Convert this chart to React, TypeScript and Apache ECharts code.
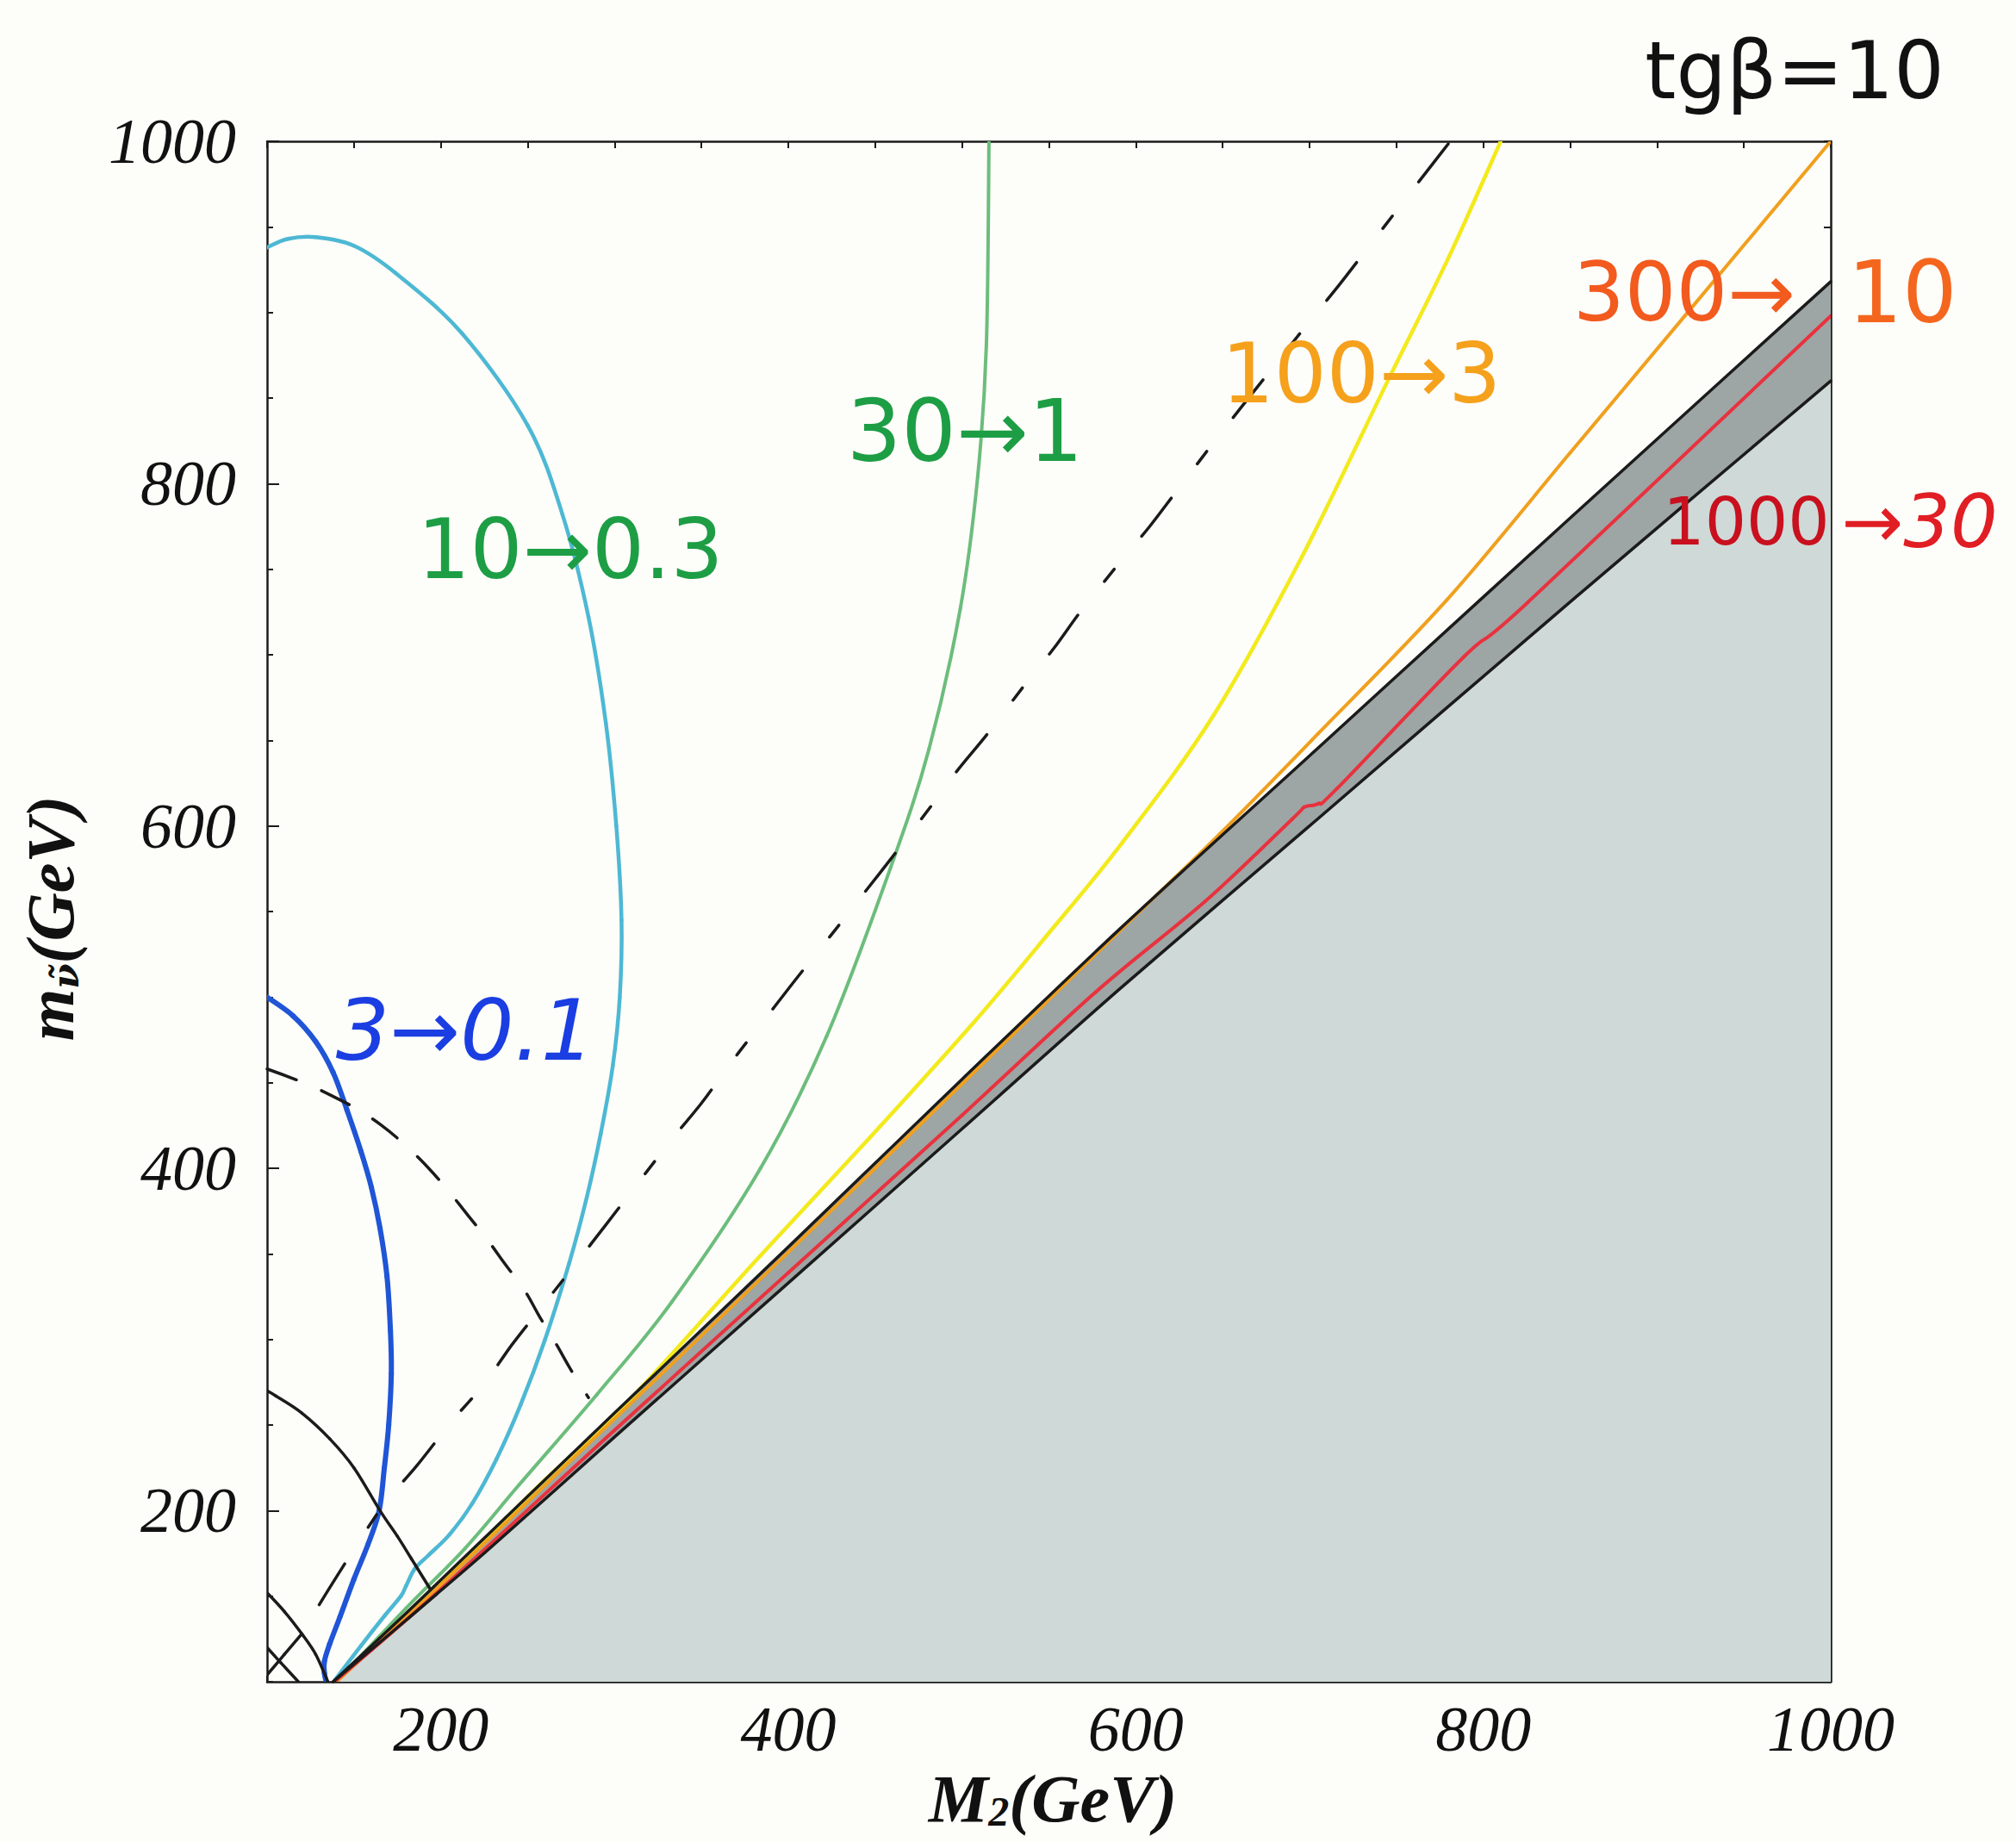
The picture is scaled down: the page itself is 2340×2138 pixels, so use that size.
import { useEffect, useRef } from 'react';
import * as echarts from 'echarts';

// ---- axis ticks (GeV) ----
const X_MAJOR = [200, 400, 600, 800, 1000];
const X_MINOR = [100, 150, 200, 250, 300, 350, 400, 450, 500, 550, 600, 650, 700, 750, 800, 850, 900, 950, 1000];
const Y_MAJOR = [200, 400, 600, 800, 1000];
const Y_MINOR = [100, 150, 200, 250, 300, 350, 400, 450, 500, 550, 600, 650, 700, 750, 800, 850, 900, 950, 1000];

// ---- curves: [M2, m_sneutrino] ----
const UPPER_BLACK = [[138, 100], [180, 140], [220, 179], [300, 257], [400, 354], [500, 452], [591, 540], [700, 641], [796, 730], [900, 826], [1000, 918]];
const LOWER_BLACK = [[138, 100], [180, 136], [226, 176], [300, 243], [400, 333], [500, 423], [591, 505], [700, 600], [849, 730], [1000, 860]];
const RED = [[140, 101], [200, 154], [300, 247], [400, 339], [500, 431], [577, 503], [640, 556], [690, 604], [697, 611], [705, 613], [716, 622], [789, 699], [826, 731], [1000, 898]];
const ORANGE = [[140, 100], [220, 176], [400, 351], [591, 539], [648, 595], [705, 654], [779, 732], [850, 818], [916, 898], [1000, 1000]];
const YELLOW = [[140, 101], [220, 178], [260, 218], [308, 264], [384, 349], [447, 418], [504, 482], [548, 535], [592, 590], [645, 665], [696, 758], [745, 860], [780, 932], [810, 1000]];
const GREEN = [[140, 100], [180, 143], [214, 178], [245, 215], [290, 268], [333, 322], [384, 400], [422, 477], [459, 576], [481, 645], [499, 727], [509, 804], [514, 881], [515.5, 1000]];
const CYAN = [[100, 938], [112, 943], [128, 944], [150, 939], [174, 923], [212, 888], [250, 834], [270, 782], [285, 722], [295, 660], [301, 600], [304, 545], [303, 500], [299, 460], [292, 420], [284, 383], [274, 345], [260, 300], [246, 262], [232, 230], [218, 204], [205, 186], [193, 174], [185, 166], [180, 156], [177, 150], [168, 139], [154, 121], [139, 101]];
const BLUE = [[100, 500], [115, 489], [128, 474], [138, 456], [146, 434], [154, 410], [160, 389], [165, 365], [169, 337], [171, 305], [171.5, 280], [170, 250], [167.5, 225], [164.5, 200], [158, 180], [150, 160], [142, 138], [136, 122], [133, 112], [133, 105], [134, 100]];
const DASH_DIAG = [[130, 145], [166, 202], [186, 226], [207, 253], [225, 274], [241, 297], [262, 324], [279, 346], [295, 367], [317, 396], [333, 417], [350, 438], [371, 467], [388, 489], [404, 510], [426, 538], [443, 560], [460, 582], [481, 610], [497, 632], [514, 653], [535, 681], [553, 704], [568, 725], [590, 753], [608, 775], [623, 795], [644, 823], [661, 845], [701, 896], [717, 916], [733, 937], [755, 966], [771, 987], [781, 1000]];
const DASH_ARC = [[100, 458], [121, 450], [136, 443], [151, 435], [166, 425], [180, 413], [193, 400], [205, 386], [216, 372], [227, 358], [237, 344], [248, 329], [257, 313], [266, 298], [275, 282], [285, 266]];
const BLACK_ARC = [[100, 270], [105, 267], [120, 257], [136, 242], [150, 225], [165, 200], [175, 185], [183, 172], [194, 154]];
const BLACK_K1 = [[100, 152], [110, 141], [120, 128], [128, 116], [135, 100]];
const BLACK_K2 = [[100, 104], [110, 116], [120, 128]];
const BLACK_K3 = [[100, 120], [108, 111], [118, 100]];

const INK = '#1b1b1b';

function curve(data: number[][], color: string, width: number, smooth: number | boolean, extra: any = {}) {
  return {
    type: 'line',
    data,
    xAxisIndex: 0,
    yAxisIndex: 0,
    symbol: 'none',
    showSymbol: false,
    silent: true,
    smooth,
    lineStyle: { color, width, cap: 'round', join: 'round', ...(extra.lineStyle || {}) },
    z: extra.z ?? 5,
    ...(extra.areaStyle ? { areaStyle: extra.areaStyle } : {}),
  };
}

// Catmull-Rom spline through the data points, drawn segment by segment via the axes' scales
function spline(data: number[][], color: string, width: number, z = 5) {
  return {
    type: 'custom',
    data,
    xAxisIndex: 0,
    yAxisIndex: 0,
    encode: { x: 0, y: 1 },
    silent: true,
    clip: true,
    z,
    renderItem: (params: any, api: any) => {
      const i = params.dataIndex;
      const n = data.length;
      if (i >= n - 1) return null;
      const p = (k: number) => api.coord(data[Math.max(0, Math.min(n - 1, k))]);
      const p0 = p(i - 1), p1 = p(i), p2 = p(i + 1), p3 = p(i + 2);
      const t = 1 / 6;
      return {
        type: 'bezierCurve',
        shape: {
          x1: p1[0], y1: p1[1], x2: p2[0], y2: p2[1],
          cpx1: p1[0] + (p2[0] - p0[0]) * t, cpy1: p1[1] + (p2[1] - p0[1]) * t,
          cpx2: p2[0] - (p3[0] - p1[0]) * t, cpy2: p2[1] - (p3[1] - p1[1]) * t,
        },
        style: { stroke: color, lineWidth: width, fill: null, lineCap: 'round' },
      };
    },
  };
}

export default function App() {
  const ref = useRef<HTMLDivElement>(null);
  useEffect(() => {
    document.body.style.margin = '0';
    const chart = echarts.init(ref.current!, null, { renderer: 'svg' });
    const tickFont = { fontFamily: 'Liberation Serif', fontStyle: 'italic', fontSize: 74, color: '#111', formatter: (v: number) => String(v) };
    const hand = "'DejaVu Sans'";
    const centered = { textAlign: 'center', textVerticalAlign: 'middle', align: 'center', verticalAlign: 'middle' };
    const option: any = {
      animation: false,
      backgroundColor: '#fdfdf9',
      grid: { left: 310, top: 164, width: 1815, height: 1788, containLabel: false },
      xAxis: [
        {
          type: 'value', min: 100, max: 1000, position: 'bottom',
          axisLine: { show: true, onZero: false, lineStyle: { color: INK, width: 2.5 } },
          axisTick: { show: true, inside: true, length: 14, customValues: X_MAJOR, lineStyle: { color: INK, width: 2 } },
          axisLabel: { show: true, customValues: X_MAJOR, margin: 18, ...tickFont },
          splitLine: { show: false },
        },
        {
          type: 'value', min: 100, max: 1000, position: 'bottom',
          axisLine: { show: false, onZero: false },
          axisTick: { show: true, inside: true, length: 7, customValues: X_MINOR, lineStyle: { color: INK, width: 2 } },
          axisLabel: { show: false },
          splitLine: { show: false },
        },
        {
          type: 'value', min: 100, max: 1000, position: 'top',
          axisLine: { show: true, onZero: false, lineStyle: { color: INK, width: 2.5 } },
          axisTick: { show: true, inside: true, length: 8, customValues: X_MINOR, lineStyle: { color: INK, width: 2 } },
          axisLabel: { show: false },
          splitLine: { show: false },
        },
      ],
      yAxis: [
        {
          type: 'value', min: 100, max: 1000, position: 'left',
          axisLine: { show: true, onZero: false, lineStyle: { color: INK, width: 2.5 } },
          axisTick: { show: true, inside: true, length: 14, customValues: Y_MAJOR, lineStyle: { color: INK, width: 2 } },
          axisLabel: { show: true, customValues: Y_MAJOR, margin: 36, ...tickFont },
          splitLine: { show: false },
        },
        {
          type: 'value', min: 100, max: 1000, position: 'left',
          axisLine: { show: false, onZero: false },
          axisTick: { show: true, inside: true, length: 7, customValues: Y_MINOR, lineStyle: { color: INK, width: 2 } },
          axisLabel: { show: false },
          splitLine: { show: false },
        },
        {
          type: 'value', min: 100, max: 1000, position: 'right',
          axisLine: { show: true, onZero: false, lineStyle: { color: INK, width: 2.5 } },
          axisTick: { show: true, inside: true, length: 8, customValues: Y_MINOR, lineStyle: { color: INK, width: 2 } },
          axisLabel: { show: false },
          splitLine: { show: false },
        },
      ],
      series: [
        curve(UPPER_BLACK, INK, 0, false, { z: 1, areaStyle: { color: '#9ea5a5', opacity: 1, origin: 'start' } }),
        curve(LOWER_BLACK, INK, 0, false, { z: 2, areaStyle: { color: '#cfd9d7', opacity: 1, origin: 'start' } }),
        spline(CYAN, '#4db8d4', 4.5),
        spline(BLUE, '#1f55d6', 6),
        spline(GREEN, '#6cbd7c', 4),
        spline(YELLOW, '#f3ea1c', 4.5),
        spline(ORANGE, '#f0a01e', 4),
        spline(RED, '#e8323e', 4),
        curve(UPPER_BLACK, INK, 3.5, 0.3, { z: 6 }),
        curve(LOWER_BLACK, INK, 3.5, 0.3, { z: 6 }),
        curve(DASH_DIAG, INK, 3.5, 0.3, { z: 6, lineStyle: { type: [56, 50, 18, 50] } }),
        curve(DASH_ARC, INK, 3.5, 0.4, { z: 6, lineStyle: { type: [36, 32] } }),
        spline(BLACK_ARC, INK, 3.5, 6),
        spline(BLACK_K1, INK, 3.5, 6),
        spline(BLACK_K2, INK, 3.5, 6),
        spline(BLACK_K3, INK, 3.5, 6),
      ],
      graphic: [
        { type: 'text', x: 1222, y: 2094, z: 10, style: {
          text: '{a|M}{s|2}{a|(GeV)}', ...centered,
          rich: {
            a: { fontFamily: 'Liberation Serif', fontStyle: 'italic', fontWeight: 'bold', fontSize: 78, lineHeight: 64, fill: '#111', verticalAlign: 'bottom' },
            s: { fontFamily: 'Liberation Serif', fontStyle: 'italic', fontWeight: 'bold', fontSize: 48, lineHeight: 64, fill: '#111', verticalAlign: 'bottom' },
          } } },
        { type: 'text', x: 58, y: 1066, rotation: Math.PI / 2, z: 10, style: {
          text: '{a|m}{s|ν̃}{a|(GeV)}', ...centered,
          rich: {
            a: { fontFamily: 'Liberation Serif', fontStyle: 'italic', fontWeight: 'bold', fontSize: 78, lineHeight: 78, fill: '#111', verticalAlign: 'bottom' },
            s: { fontFamily: 'DejaVu Serif', fontStyle: 'italic', fontWeight: 'bold', fontSize: 42, lineHeight: 78, fill: '#111', verticalAlign: 'bottom' },
          } } },
        { type: 'text', x: 2083, y: 82, z: 10, style: { text: 'tgβ=10', font: `92px ${hand}`, fill: '#111', ...centered } },
        { type: 'text', x: 662, y: 638, z: 10, style: { text: '10→0.3', font: `96px ${hand}`, fill: '#1d9e45', ...centered } },
        { type: 'text', x: 1120, y: 500, z: 10, style: { text: '30→1', font: `100px ${hand}`, fill: '#1d9e45', ...centered } },
        { type: 'text', x: 540, y: 1196, z: 10, style: { text: '3→0.1', font: `italic 98px ${hand}`, fill: '#1a3ee2', ...centered } },
        { type: 'text', x: 1580, y: 434, z: 10, style: { text: '100→3', font: `96px ${hand}`, fill: '#f5a11c', ...centered } },
        { type: 'text', x: 1955, y: 339, z: 10, style: { text: '300→', font: `94px ${hand}`, fill: '#f25a1e', ...centered } },
        { type: 'text', x: 2208, y: 339, z: 10, style: { text: '10', font: `100px ${hand}`, fill: '#f4661e', ...centered } },
        { type: 'text', x: 2027, y: 605, z: 10, style: { text: '1000', font: `76px ${hand}`, fill: '#c8101e', ...centered } },
        { type: 'text', x: 2228, y: 605, z: 10, style: { text: '→30', font: `italic 86px ${hand}`, fill: '#e01e24', ...centered } },
      ],
    };
    chart.setOption(option);
    return () => chart.dispose();
  }, []);
  return <div ref={ref} style={{ position: 'fixed', left: 0, top: 0, width: 2340, height: 2138 }} />;
}
